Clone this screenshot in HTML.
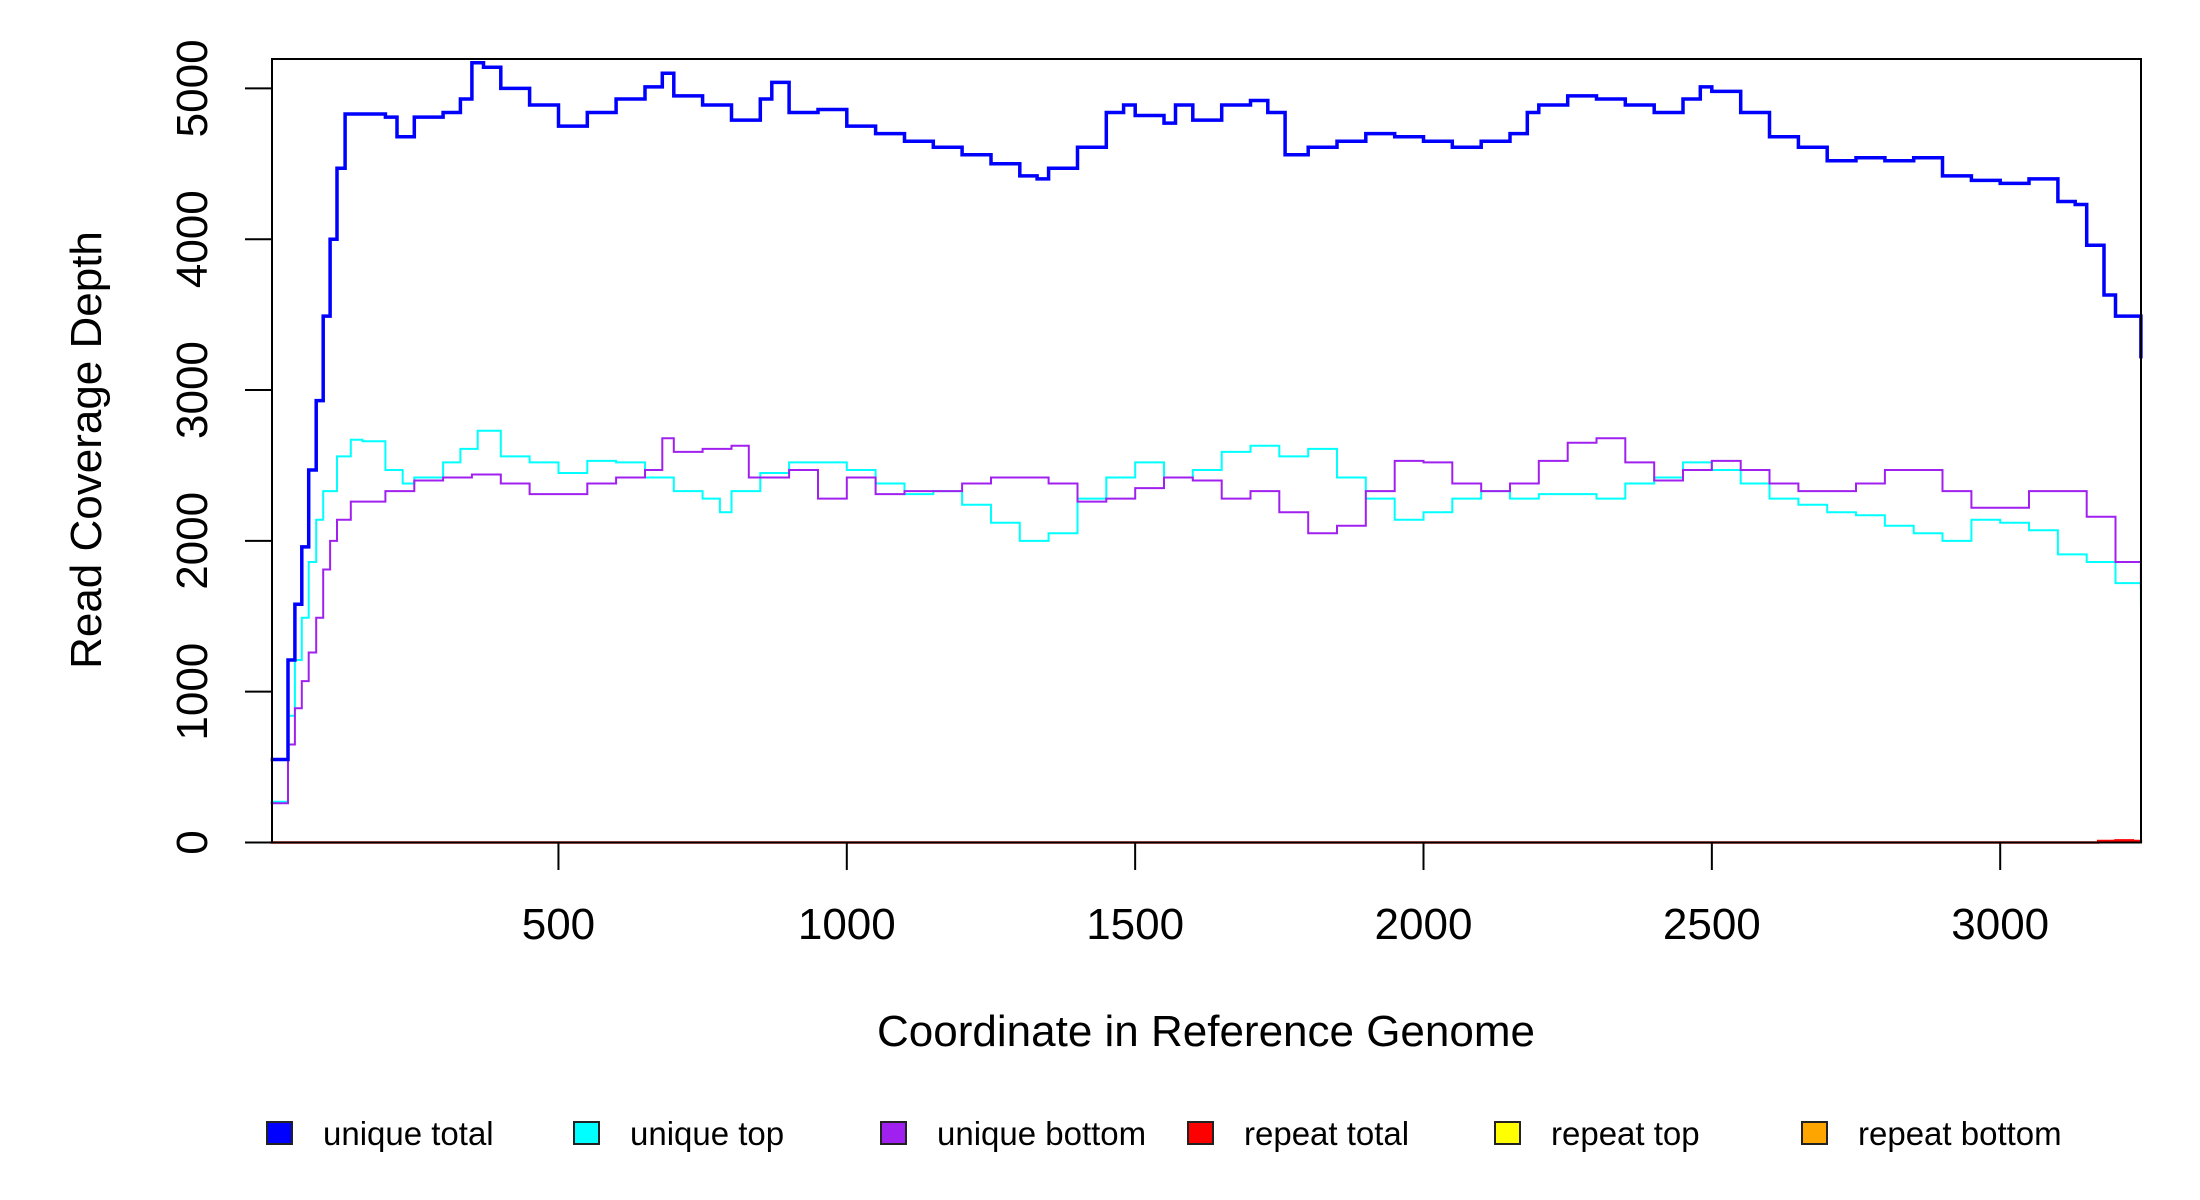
<!DOCTYPE html>
<html><head><meta charset="utf-8"><title>Read Coverage Depth</title>
<style>
html,body{margin:0;padding:0;background:#fff;}
svg{display:block;font-family:"Liberation Sans",Arial,sans-serif;}
</style></head>
<body>
<svg id="chart" width="2200" height="1200" viewBox="0 0 2200 1200" xmlns="http://www.w3.org/2000/svg">
<rect x="0" y="0" width="2200" height="1200" fill="#fff"/>
<g id="series"></g>
<rect x="272" y="59" width="1869" height="783.5" fill="none" stroke="#000" stroke-width="2"/>
<g id="axes"></g>
<text x="1206" y="1046" font-size="44" text-anchor="middle">Coordinate in Reference Genome</text>
<text x="0" y="0" font-size="44" text-anchor="middle" transform="translate(101,450) rotate(-90)">Read Coverage Depth</text>
<g id="legend"></g>
</svg>
<script>
const xPos = [1,31,43,55,67,80,92,104,116,130,150,200,220,250,300,330,350,370,400,450,500,550,600,650,680,700,750,800,850,870,900,950,1000,1050,1100,1150,1200,1250,1300,1330,1350,1400,1450,1480,1500,1550,1570,1600,1650,1700,1730,1760,1800,1850,1900,1950,2000,2050,2100,2150,2180,2200,2250,2300,2350,2400,2450,2480,2500,2550,2600,2650,2700,2750,2800,2850,2900,2950,3000,3050,3100,3130,3150,3180,3200,3244];
const uniqueTotal = [550,1210,1580,1960,2470,2930,3490,4000,4470,4830,4830,4810,4680,4810,4840,4930,5170,5140,5000,4890,4750,4840,4930,5010,5100,4950,4890,4790,4930,5040,4840,4860,4750,4700,4650,4610,4560,4500,4420,4400,4470,4610,4840,4890,4820,4770,4890,4790,4890,4920,4840,4560,4610,4650,4700,4680,4650,4610,4650,4700,4840,4890,4950,4930,4890,4840,4930,5010,4980,4840,4680,4610,4520,4540,4520,4540,4420,4390,4370,4400,4250,4230,3960,3630,3490,3210];

const xTop = [1,31,43,55,67,80,92,116,140,160,200,230,250,300,330,360,400,450,500,550,600,650,700,750,780,800,850,900,950,1000,1050,1100,1150,1200,1250,1300,1350,1400,1450,1500,1550,1600,1650,1700,1750,1800,1850,1900,1950,2000,2050,2100,2150,2200,2250,2300,2350,2400,2450,2500,2550,2600,2650,2700,2750,2800,2850,2900,2950,3000,3050,3100,3150,3200,3244];
const uniqueTop = [270,840,1210,1490,1860,2140,2330,2560,2670,2660,2470,2380,2420,2520,2610,2730,2560,2520,2450,2530,2520,2420,2330,2280,2190,2330,2450,2520,2520,2470,2380,2310,2330,2240,2120,2000,2050,2280,2420,2520,2420,2470,2590,2630,2560,2610,2420,2280,2140,2190,2280,2330,2280,2310,2310,2280,2380,2420,2520,2470,2380,2280,2240,2190,2170,2100,2050,2000,2140,2120,2070,1910,1860,1720,1570];

const xBottom = [1,31,43,55,67,80,92,104,116,140,200,250,300,350,400,450,500,550,600,650,680,700,750,800,830,850,900,950,1000,1050,1100,1150,1200,1250,1300,1350,1400,1450,1500,1550,1600,1650,1700,1750,1800,1850,1900,1950,2000,2050,2100,2150,2200,2250,2300,2350,2400,2450,2500,2550,2600,2650,2700,2750,2800,2850,2900,2950,3000,3050,3100,3150,3200,3244];
const uniqueBottom = [260,650,890,1070,1260,1490,1810,2000,2140,2260,2330,2400,2420,2440,2380,2310,2310,2380,2420,2470,2680,2590,2610,2630,2420,2420,2470,2280,2420,2310,2330,2330,2380,2420,2420,2380,2260,2280,2350,2420,2400,2280,2330,2190,2050,2100,2330,2530,2520,2380,2330,2380,2530,2650,2680,2520,2400,2470,2530,2470,2380,2330,2330,2380,2470,2470,2330,2220,2220,2330,2330,2160,1860,1680];

const xRepeat = [1,3140,3170,3200,3230,3244];
const repeatTotal = [0,0,10,14,10,0];
const repeatTop = [0,0,0,0,0,0];
const repeatBottom = [0,0,0,0,0,0];

const xTicks = [500,1000,1500,2000,2500,3000];
const yTicks = [0,1000,2000,3000,4000,5000];
const legendLabels = ["unique total","unique top","unique bottom","repeat total","repeat top","repeat bottom"];
const legendColors = ["#0000ff","#00ffff","#a020f0","#ff0000","#ffff00","#ffa500"];

const NS = "http://www.w3.org/2000/svg";
function X(v){ return 270.1 + v*0.5767; }
function Y(v){ return 842.5 - v*0.15082; }

function stepPath(xs, ys){
  let d = "M" + X(xs[0]).toFixed(1) + "," + Y(ys[0]).toFixed(1);
  for(let i=1;i<xs.length;i++){
    d += " H" + X(xs[i]).toFixed(1) + " V" + Y(ys[i]).toFixed(1);
  }
  return d;
}
const seriesG = document.getElementById("series");
function addLine(xs, ys, color, w, name){
  const p = document.createElementNS(NS,"path");
  p.setAttribute("d", stepPath(xs, ys));
  p.setAttribute("fill","none");
  p.setAttribute("stroke",color);
  p.setAttribute("stroke-width",w);
  
  
  seriesG.appendChild(p);
}
addLine(xRepeat, repeatTop, "#ffff00", 2, "line-repeat-top");
addLine(xRepeat, repeatTotal, "#ff0000", 2.5, "line-repeat-total");
addLine(xRepeat, repeatBottom, "#ffa500", 2, "line-repeat-bottom");
addLine(xTop, uniqueTop, "#00ffff", 2, "line-unique-top");
addLine(xBottom, uniqueBottom, "#a020f0", 2, "line-unique-bottom");
addLine(xPos, uniqueTotal, "#0000ff", 3.5, "line-unique-total");

const axesG = document.getElementById("axes");
xTicks.forEach(function(t){
  const l = document.createElementNS(NS,"line");
  l.setAttribute("x1",X(t)); l.setAttribute("x2",X(t));
  l.setAttribute("y1",842.5); l.setAttribute("y2",870);
  l.setAttribute("stroke","#000"); l.setAttribute("stroke-width",2);
  
  
  axesG.appendChild(l);
  const tx = document.createElementNS(NS,"text");
  tx.setAttribute("x",X(t)); tx.setAttribute("y",939);
  tx.setAttribute("font-size",44); tx.setAttribute("text-anchor","middle");
  tx.textContent = t;
  
  
  axesG.appendChild(tx);
});
yTicks.forEach(function(t){
  const l = document.createElementNS(NS,"line");
  l.setAttribute("x1",245); l.setAttribute("x2",272);
  l.setAttribute("y1",Y(t)); l.setAttribute("y2",Y(t));
  l.setAttribute("stroke","#000"); l.setAttribute("stroke-width",2);
  
  
  axesG.appendChild(l);
  const tx = document.createElementNS(NS,"text");
  tx.setAttribute("x",0); tx.setAttribute("y",0);
  tx.setAttribute("font-size",44); tx.setAttribute("text-anchor","middle");
  tx.setAttribute("transform","translate(207,"+Y(t)+") rotate(-90)");
  tx.textContent = t;
  
  
  axesG.appendChild(tx);
});

const legG = document.getElementById("legend");
legendLabels.forEach(function(lab,i){
  const bx = 267 + i*307;
  const r = document.createElementNS(NS,"rect");
  r.setAttribute("x",bx); r.setAttribute("y",1122);
  r.setAttribute("width",25); r.setAttribute("height",22);
  r.setAttribute("fill",legendColors[i]); r.setAttribute("stroke","#222"); r.setAttribute("stroke-width",2);
  
  
  legG.appendChild(r);
  const tx = document.createElementNS(NS,"text");
  tx.setAttribute("x",bx+56); tx.setAttribute("y",1145);
  tx.setAttribute("font-size",33);
  tx.textContent = lab;
  
  
  legG.appendChild(tx);
});
</script>
</body></html>
